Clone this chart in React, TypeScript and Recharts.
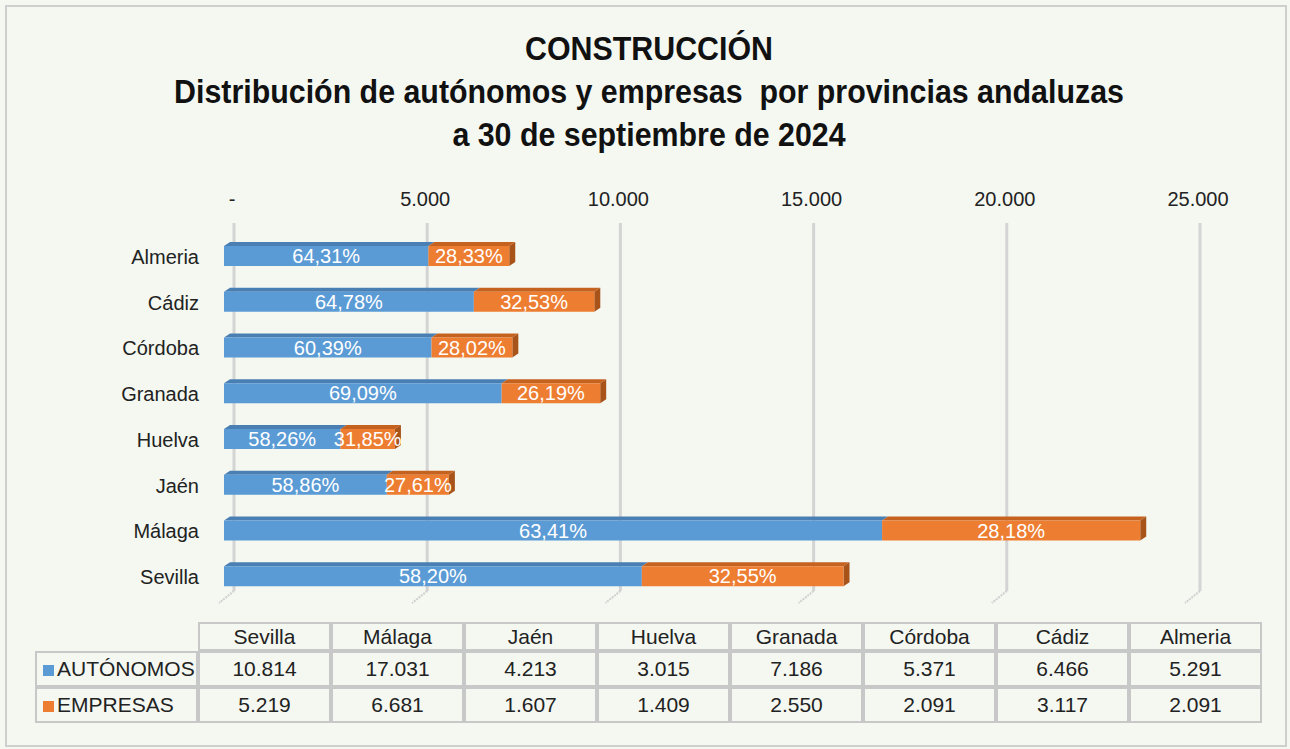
import React from 'react'
import { BarChart, Bar, XAxis, YAxis, CartesianGrid, LabelList } from 'recharts'

const provincias = ['Almeria', 'Cádiz', 'Córdoba', 'Granada', 'Huelva', 'Jaén', 'Málaga', 'Sevilla']
const autonomos = [5291, 6466, 5371, 7186, 3015, 4213, 17031, 10814]
const empresas = [2091, 3117, 2091, 2550, 1409, 1607, 6681, 5219]
const pctAutonomos = ['64,31%', '64,78%', '60,39%', '69,09%', '58,26%', '58,86%', '63,41%', '58,20%']
const pctEmpresas = ['28,33%', '32,53%', '28,02%', '26,19%', '31,85%', '27,61%', '28,18%', '32,55%']
const xTicks = [0, 5000, 10000, 15000, 20000, 25000]

const NARROW = "'Liberation Sans Narrow', 'Arial Narrow', 'Liberation Sans', sans-serif"
const BLUE = '#5b9bd5'
const ORANGE = '#ed7d31'

const fmt = (v: number) => (v === 0 ? '-' : String(v).replace(/\B(?=(\d{3})+(?!\d))/g, '.'))

const data = provincias.map((name, i) => ({
  name,
  autonomos: autonomos[i],
  empresas: empresas[i],
  pctA: pctAutonomos[i],
  pctE: pctEmpresas[i],
}))

// table is listed bottom-up (Sevilla first)
const tableOrder = [...data].reverse()

const bar3d = (front: string, top: string, side: string, withSide: boolean) => (props: any) => {
  const { x, y, width, height } = props
  if (!width || width <= 0) return <g />
  const d = 6
  const dy = 4
  return (
    <g>
      <polygon points={`${x},${y} ${x + d},${y - dy} ${x + width + d},${y - dy} ${x + width},${y}`} fill={top} />
      {withSide && (
        <polygon
          points={`${x + width},${y} ${x + width + d},${y - dy} ${x + width + d},${y + height - dy} ${x + width},${y + height}`}
          fill={side}
        />
      )}
      <rect x={x} y={y} width={width} height={height} fill={front} />
    </g>
  )
}

const gridLine = (props: any) => {
  const { x1, y1, y2, key } = props
  const gx = x1 + 10
  return (
    <g key={key}>
      <line x1={gx} y1={y1 - 10} x2={gx} y2={y2 - 8} stroke="#d4d4d4" strokeWidth={3} />
      <line x1={gx} y1={y2 - 8} x2={gx - 15} y2={y2 + 4} stroke="#d0d0d0" strokeWidth={2} strokeDasharray="2 1" />
    </g>
  )
}

const TopTick = (props: any) => {
  const { x, y, payload } = props
  return (
    <text x={x + 8} y={y - 26} textAnchor="middle" dominantBaseline="central" fontFamily={NARROW} fontSize={20} fill="#222">
      {fmt(payload.value)}
    </text>
  )
}

const LeftTick = (props: any) => {
  const { x, y, payload } = props
  return (
    <text x={x - 17} y={y + 1} textAnchor="end" dominantBaseline="central" fontFamily={NARROW} fontSize={20} fill="#222">
      {payload.value}
    </text>
  )
}

const cell: React.CSSProperties = {
  border: '2px solid #c8c8c8',
  textAlign: 'center',
  padding: 0,
}

export default function App() {
  return (
    <div style={{ position: 'absolute', left: 0, top: 0, width: 1290, height: 749, background: '#f4f8f1', fontFamily: NARROW }}>
      <div style={{ position: 'absolute', left: 5, top: 5, width: 1278, height: 738, border: '2px solid #cfcfcf' }} />
      <div
        style={{
          position: 'absolute',
          left: 0,
          top: 27,
          width: 1298,
          textAlign: 'center',
          fontWeight: 'bold',
          fontSize: 33,
          lineHeight: '43px',
          color: '#111',
          transform: 'scaleX(0.92)',
          transformOrigin: '649px 0',
        }}
      >
        <div>CONSTRUCCIÓN</div>
        <div>Distribución de autónomos y empresas&nbsp; por provincias andaluzas</div>
        <div>a 30 de septiembre de 2024</div>
      </div>
      <div style={{ position: 'absolute', left: 0, top: 0 }}>
        <BarChart width={1290} height={749} data={data} layout="vertical" margin={{ top: 203, right: 100, bottom: 150, left: 100 }} barSize={20}>
          <CartesianGrid horizontal={false} vertical={gridLine} />
          <XAxis type="number" orientation="top" domain={[0, 25000]} ticks={xTicks} height={30} axisLine={false} tickLine={false} tick={<TopTick />} />
          <YAxis type="category" dataKey="name" width={124} axisLine={false} tickLine={false} tick={<LeftTick />} />
          <Bar dataKey="autonomos" stackId="s" fill={BLUE} shape={bar3d(BLUE, '#4a7fb3', '#3f6d9a', false)} isAnimationActive={false}>
            <LabelList dataKey="pctA" position="center" fill="#fff" fontFamily={NARROW} fontSize={20} />
          </Bar>
          <Bar dataKey="empresas" stackId="s" fill={ORANGE} shape={bar3d(ORANGE, '#c6621f', '#a8531a', true)} isAnimationActive={false}>
            <LabelList dataKey="pctE" position="center" fill="#fff" fontFamily={NARROW} fontSize={20} />
          </Bar>
        </BarChart>
      </div>
      <table
        style={{
          position: 'absolute',
          left: 35,
          top: 622,
          borderCollapse: 'separate',
          borderSpacing: 0,
          fontSize: 21,
          color: '#222',
          tableLayout: 'fixed',
        }}
      >
        <colgroup>
          <col style={{ width: 163 }} />
          {tableOrder.map((d) => (
            <col key={d.name} style={{ width: 133 }} />
          ))}
        </colgroup>
        <tbody>
          <tr style={{ height: 29 }}>
            <td style={{ border: 'none' }} />
            {tableOrder.map((d) => (
              <td key={d.name} style={cell}>{d.name}</td>
            ))}
          </tr>
          <tr style={{ height: 36 }}>
            <td style={{ ...cell, textAlign: 'left', paddingLeft: 6 }}>
              <span style={{ display: 'inline-block', width: 11, height: 11, background: BLUE, marginRight: 3 }} />
              AUTÓNOMOS
            </td>
            {tableOrder.map((d) => (
              <td key={d.name} style={cell}>{fmt(d.autonomos)}</td>
            ))}
          </tr>
          <tr style={{ height: 36 }}>
            <td style={{ ...cell, textAlign: 'left', paddingLeft: 6 }}>
              <span style={{ display: 'inline-block', width: 11, height: 11, background: ORANGE, marginRight: 3 }} />
              EMPRESAS
            </td>
            {tableOrder.map((d) => (
              <td key={d.name} style={cell}>{fmt(d.empresas)}</td>
            ))}
          </tr>
        </tbody>
      </table>
    </div>
  )
}
